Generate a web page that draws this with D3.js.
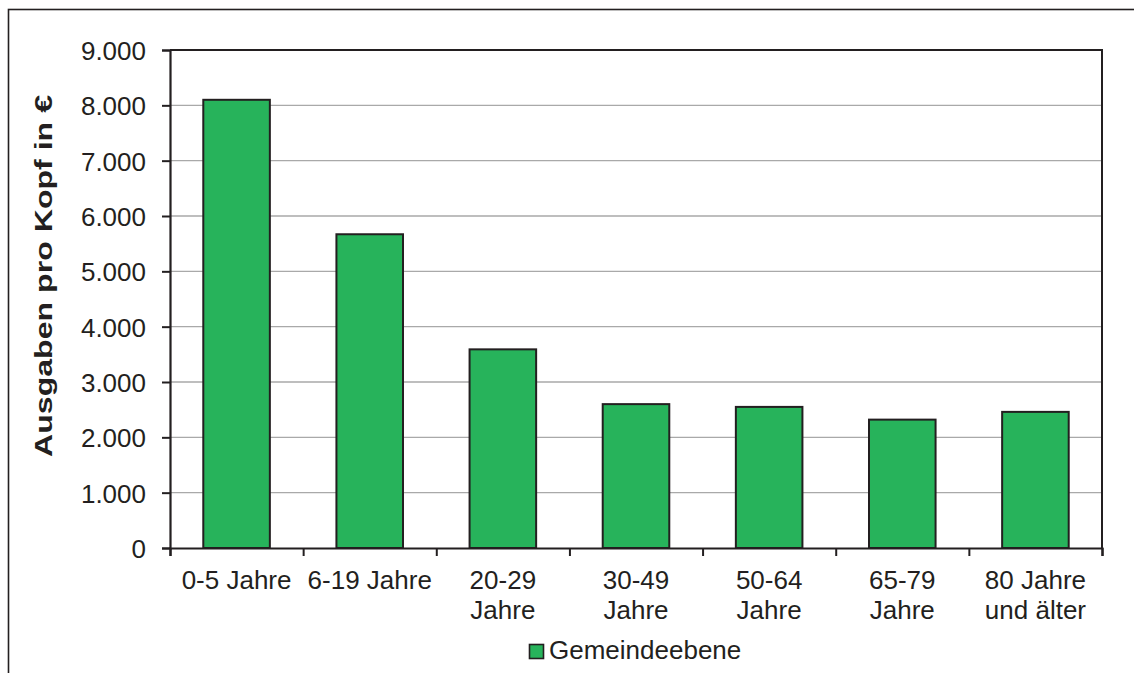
<!DOCTYPE html>
<html>
<head>
<meta charset="utf-8">
<script src="https://cdn.jsdelivr.net/npm/d3@7"></script>
<style>
  html, body { margin: 0; padding: 0; background: #fff; }
  svg { display: block; font-family: "Liberation Sans", Arial, sans-serif; }
</style>
</head>
<body>
<svg id="chart" width="1134" height="673"></svg>
<script>
// ---- data ----
const categories = [
  ["0-5 Jahre"],
  ["6-19 Jahre"],
  ["20-29", "Jahre"],
  ["30-49", "Jahre"],
  ["50-64", "Jahre"],
  ["65-79", "Jahre"],
  ["80 Jahre", "und älter"]
];
const values = [8100, 5670, 3590, 2600, 2550, 2320, 2460];
const yTicks = [0, 1000, 2000, 3000, 4000, 5000, 6000, 7000, 8000, 9000];
const seriesName = "Gemeindeebene";
const yTitle = "Ausgaben pro Kopf in €";

// ---- layout ----
const svg = d3.select("#chart");
const plot = { left: 170, right: 1102, top: 50, bottom: 548 };
const ink = "#231f20";
const green = "#27b35b";

const de = d3.formatLocale({ decimal: ",", thousands: ".", grouping: [3], currency: ["", " €"] });
const fmt = de.format(",.0f");

const x = d3.scaleBand()
  .domain(d3.range(categories.length))
  .range([plot.left, plot.right])
  .paddingInner(0.5)
  .paddingOuter(0.25);
const y = d3.scaleLinear().domain([0, 9000]).range([plot.bottom, plot.top]);

// outer frame (cut off at right/bottom)
svg.append("rect")
  .attr("x", 8.5).attr("y", 9.5).attr("width", 1200).attr("height", 700)
  .attr("fill", "none").attr("stroke", ink).attr("stroke-width", 1.6);

// gridlines
svg.append("g").selectAll("line")
  .data(yTicks.filter(d => d > 0 && d < 9000))
  .join("line")
  .attr("x1", plot.left).attr("x2", plot.right)
  .attr("y1", d => y(d)).attr("y2", d => y(d))
  .attr("stroke", "#a9a9a9").attr("stroke-width", 1.3);

// plot area top & right border
svg.append("path")
  .attr("d", `M${plot.left},${plot.top}H${plot.right}V${plot.bottom}`)
  .attr("fill", "none").attr("stroke", ink).attr("stroke-width", 2);

// bars
svg.append("g").selectAll("rect")
  .data(values)
  .join("rect")
  .attr("x", (d, i) => x(i))
  .attr("width", x.bandwidth())
  .attr("y", d => y(d))
  .attr("height", d => y(0) - y(d))
  .attr("fill", green)
  .attr("stroke", ink)
  .attr("stroke-width", 2);

// y axis
const yAxis = d3.axisLeft(y).tickValues(yTicks).tickFormat(fmt).tickSize(8).tickPadding(16);
const gy = svg.append("g").attr("transform", `translate(${plot.left},0)`).call(yAxis);
gy.select(".domain").attr("stroke", ink).attr("stroke-width", 2.2);
gy.selectAll(".tick line").attr("stroke", ink).attr("stroke-width", 2);
gy.selectAll(".tick text")
  .attr("fill", ink).attr("font-size", 26)
  .attr("font-family", "Liberation Sans, Arial, sans-serif")
  .attr("dy", "0.36em");

// x axis (ticks at category boundaries)
const xb = d3.scaleLinear().domain([0, categories.length]).range([plot.left, plot.right]);
const gx = svg.append("g").attr("transform", `translate(0,${plot.bottom})`)
  .call(d3.axisBottom(xb).tickValues(d3.range(categories.length + 1)).tickSize(8).tickFormat(""));
gx.select(".domain").attr("stroke", ink).attr("stroke-width", 2.2);
gx.selectAll(".tick line").attr("stroke", ink).attr("stroke-width", 2);

// category labels
const lbl = svg.append("g").selectAll("text")
  .data(categories)
  .join("text")
  .attr("x", (d, i) => x(i) + x.bandwidth() / 2)
  .attr("y", plot.bottom + 41)
  .attr("text-anchor", "middle")
  .attr("font-size", 26)
  .attr("fill", ink);
lbl.selectAll("tspan")
  .data(d => d)
  .join("tspan")
  .attr("x", function () { return d3.select(this.parentNode).attr("x"); })
  .attr("dy", (d, i) => i === 0 ? 0 : 30)
  .text(d => d);

// y title
svg.append("text")
  .attr("transform", `translate(52,276) rotate(-90)`)
  .attr("text-anchor", "middle")
  .attr("font-size", 24)
  .attr("font-weight", "bold")
  .attr("fill", ink)
  .attr("textLength", 362)
  .attr("lengthAdjust", "spacingAndGlyphs")
  .text(yTitle);

// legend
const lg = svg.append("g");
lg.append("rect")
  .attr("x", 529.5).attr("y", 644.5).attr("width", 14).attr("height", 14)
  .attr("fill", green).attr("stroke", ink).attr("stroke-width", 1.6);
lg.append("text")
  .attr("x", 549).attr("y", 659)
  .attr("font-size", 26).attr("fill", ink)
  .text(seriesName);
</script>
</body>
</html>
